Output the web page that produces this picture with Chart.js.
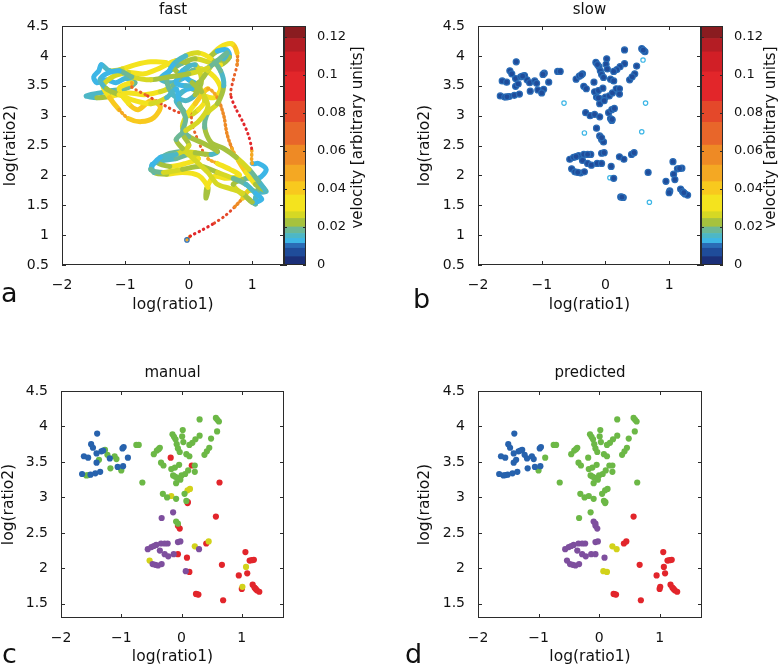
<!DOCTYPE html>
<html>
<head>
<meta charset="utf-8">
<script src="https://cdn.jsdelivr.net/npm/chart.js@4.4.1/dist/chart.umd.min.js"></script>
<style>
html, body { margin: 0; padding: 0; background: #fff; }
body { width: 782px; height: 669px; position: relative; overflow: hidden; }
canvas { position: absolute; }
.letter { position: absolute; font-family: 'DejaVu Sans', sans-serif; font-size: 27px; line-height: 27px; color: #111; }
</style>
</head>
<body>
<canvas id="chartFast" width="290" height="330" style="left:0;top:0"></canvas>
<canvas id="cbFast" width="110" height="330" style="left:280px;top:0"></canvas>
<canvas id="chartSlow" width="318" height="330" style="left:390px;top:0"></canvas>
<canvas id="cbSlow" width="85" height="330" style="left:697px;top:0"></canvas>
<canvas id="chartManual" width="290" height="339" style="left:0;top:330px"></canvas>
<canvas id="chartPredicted" width="318" height="339" style="left:390px;top:330px"></canvas>
<div class="letter" style="left:1px;top:279px">a</div>
<div class="letter" style="left:413px;top:285px">b</div>
<div class="letter" style="left:2px;top:640px">c</div>
<div class="letter" style="left:405px;top:640px">d</div>

<script>
// colour bar: band edges (velocity) and colours
const cbEdges = [0, 0.0044, 0.0088, 0.0114, 0.014, 0.0166, 0.020, 0.0245, 0.028, 0.0368, 0.0438,
                 0.0525, 0.063, 0.075, 0.086, 0.1015, 0.112, 0.119, 0.1256];
const cbColors = ['#1b2f78', '#1f4c9a', '#2a6cb6', '#3db6e6', '#4db7c6', '#6cb896', '#a6c23e', '#d6d824',
                  '#f4e31e', '#f8c91e', '#f4a823', '#ee8a25', '#e8662a', '#e4482a', '#e2262a', '#d11f26',
                  '#b41d24', '#8a1c20'];

// fast trajectory: log(ratio1), log(ratio2), velocity
const trajX = [-0.03, 0.02, 0.2, 0.4, 0.58, 0.72, 0.85,
  0.95, 1.1, 1.22, 1.12, 1.05, 1.05, 0.95, 0.8, 0.7, 0.9, 1.1, 1.22, 1.1, 1.0,
  0.99, 0.93, 0.84, 0.74, 0.66, 0.7, 0.76, 0.76,
  0.68, 0.5, 0.35, 0.45, 0.6, 0.64,
  0.5, 0.3, 0.1, -0.1, -0.3, -0.45, -0.3, -0.1, 0.05, 0.2, 0.4, 0.5, 0.4, 0.2, 0.05, -0.1, -0.2, -0.1, 0.0, 0.15, 0.25, 0.15, 0.0, -0.15,
  -0.35, -0.6, -0.85, -1.05, -1.25, -1.38, -1.42, -1.5, -1.45, -1.3, -1.15, -1.0, -0.85, -1.0, -1.2, -1.4, -1.62, -1.45, -1.2, -0.95, -0.7, -0.45, -0.25, -0.1, 0.0, -0.2, -0.45, -0.7, -0.95, -1.2, -1.35,
  -1.25, -1.1, -0.95, -0.75, -0.55, -0.45, -0.6, -0.8, -0.95, -1.1, -0.9,
  -0.9, -0.65, -0.4, -0.15, 0.02,
  0.05, 0.12, 0.2, 0.3,
  0.45, 0.65, 0.8, 0.6, 0.4, 0.28, 0.27, 0.3, 0.15, -0.1, -0.35, -0.55, -0.58, -0.4, -0.2, 0.0, 0.15, -0.05, -0.3, -0.5, -0.35, -0.1, 0.1, 0.35, 0.45,
  0.2, 0.0, -0.1, -0.05, 0.1,
  0.3, 0.45, 0.55, 0.6, 0.68, 0.78, 0.9, 1.05, 1.2,
  1.1, 0.95, 0.75, 0.55, 0.35, 0.25, 0.3, 0.45, 0.55, 0.5, 0.35, 0.15, -0.05, -0.25, -0.35, -0.25, -0.05, 0.1, 0.2, 0.1, -0.1, -0.2, -0.05, 0.15, 0.3, 0.4, 0.55, 0.6,
  0.3, 0.0, -0.3, -0.6, -0.9, -1.1, -1.3, -1.4, -1.3, -1.1, -0.85, -0.6, -0.35, -0.2,
  -0.15, -0.05, -0.1, 0.0, -0.2, -0.45, -0.6, -0.4, -0.1, 0.2, 0.45, 0.7, 0.9, 1.05, 1.15, 1.0, 0.85, 0.65, 0.45, 0.3, 0.1, -0.1, -0.2, -0.05, 0.15, 0.3, 0.2, 0.05];
const trajY = [0.92, 0.98, 1.08, 1.2, 1.33, 1.47, 1.62,
  1.75, 1.72, 1.73, 1.82, 1.62, 1.52, 1.6, 1.72, 1.85, 1.95, 1.95, 2.1, 2.2, 2.2,
  2.45, 2.7, 2.92, 3.12, 3.35, 3.6, 3.85, 4.05,
  4.2, 4.15, 4.0, 4.08, 4.1, 3.98,
  3.85, 3.9, 3.95, 3.88, 3.75, 3.62, 3.55, 3.62, 3.75, 3.78, 3.65, 3.45, 3.3, 3.35, 3.45, 3.4, 3.25, 3.1, 3.0, 3.1, 3.25, 3.5, 3.6, 3.7,
  3.88, 3.9, 3.85, 3.78, 3.75, 3.85, 3.75, 3.65, 3.55, 3.6, 3.55, 3.62, 3.55, 3.45, 3.42, 3.38, 3.33, 3.3, 3.33, 3.38, 3.35, 3.4, 3.5, 3.7, 3.85, 3.92, 3.8, 3.7, 3.72, 3.65, 3.5,
  3.3, 3.1, 2.95, 2.9, 2.97, 3.15, 3.25, 3.1, 3.2, 3.45, 3.55,
  3.48, 3.33, 3.18, 3.05, 3.05,
  2.85, 2.65, 2.45, 2.28,
  2.2, 2.1, 2.0, 1.95, 1.98, 1.78, 1.62, 1.8, 2.0, 2.05, 2.02, 2.05, 2.18, 2.25, 2.28, 2.35, 2.28, 2.2, 2.15, 2.22, 2.35, 2.4, 2.38, 2.35, 2.4,
  2.55, 2.65, 2.8, 2.98, 3.2,
  3.45, 3.3, 3.0, 2.7, 2.45, 2.25, 2.05, 1.85, 1.75,
  1.9, 2.1, 2.3, 2.45, 2.55, 2.8, 3.05, 3.2, 3.5, 3.75, 3.95, 4.05, 4.0, 3.85, 3.6, 3.35, 3.25, 3.35, 3.6, 3.85, 3.75, 3.55, 3.5, 3.55, 3.75, 3.9, 3.95, 4.05,
  3.8, 3.7, 3.65, 3.6, 3.65, 3.75, 3.7, 3.6, 3.45, 3.35, 3.25, 3.2, 3.3, 3.45,
  3.2, 2.95, 2.7, 2.5, 2.35, 2.3, 2.1, 2.05, 2.1, 2.15, 2.05, 1.95, 1.85, 1.7, 1.6, 1.55, 1.7, 1.78, 1.85, 2.05, 2.25, 2.45, 2.6, 2.75, 2.9, 3.15, 3.4, 3.55];
const trajV = [0.008, 0.09, 0.09, 0.085, 0.08, 0.07, 0.055,
  0.03, 0.02, 0.012, 0.018, 0.02, 0.012, 0.022, 0.03, 0.025, 0.02, 0.015, 0.012, 0.012, 0.012,
  0.085, 0.09, 0.092, 0.09, 0.085, 0.075, 0.065, 0.05,
  0.035, 0.032, 0.03, 0.012, 0.012, 0.012,
  0.028, 0.03, 0.022, 0.02, 0.014, 0.012, 0.02, 0.012, 0.015, 0.022, 0.035, 0.038, 0.035, 0.03, 0.015, 0.012, 0.02, 0.012, 0.022, 0.03, 0.032, 0.02, 0.012, 0.015,
  0.03, 0.035, 0.035, 0.03, 0.02, 0.012, 0.012, 0.014, 0.012, 0.012, 0.015, 0.012, 0.018, 0.02, 0.015, 0.018, 0.012, 0.02, 0.028, 0.032, 0.033, 0.03, 0.022, 0.018, 0.02, 0.028, 0.032, 0.035, 0.03, 0.02, 0.03,
  0.04, 0.045, 0.045, 0.042, 0.038, 0.036, 0.04, 0.042, 0.038, 0.035, 0.03,
  0.07, 0.075, 0.08, 0.08, 0.07,
  0.065, 0.07, 0.07, 0.06,
  0.038, 0.035, 0.03, 0.035, 0.035, 0.035, 0.012, 0.03, 0.03, 0.032, 0.028, 0.018, 0.012, 0.012, 0.018, 0.022, 0.03, 0.03, 0.028, 0.02, 0.015, 0.02, 0.03, 0.018, 0.012,
  0.03, 0.015, 0.022, 0.03, 0.035,
  0.045, 0.05, 0.055, 0.055, 0.05, 0.045, 0.04, 0.025, 0.015,
  0.015, 0.022, 0.03, 0.018, 0.03, 0.013, 0.022, 0.03, 0.018, 0.013, 0.025, 0.032, 0.018, 0.013, 0.015, 0.02, 0.013, 0.018, 0.03, 0.02, 0.013, 0.013, 0.012, 0.02, 0.022, 0.03, 0.016, 0.012,
  0.022, 0.03, 0.018, 0.03, 0.022, 0.013, 0.015, 0.012, 0.016, 0.028, 0.035, 0.03, 0.02, 0.013,
  0.013, 0.022, 0.013, 0.03, 0.02, 0.013, 0.015, 0.022, 0.03, 0.018, 0.03, 0.022, 0.016, 0.013, 0.012, 0.015, 0.025, 0.03, 0.02, 0.03, 0.022, 0.03, 0.013, 0.022, 0.03, 0.02, 0.03, 0.013];

// slow points (shared by panels b, c, d)
const slowX = [-1.40, -1.50, -1.47, -1.62, -1.55, -1.41, -1.33, -1.27, -1.23, -1.19, -1.11, -1.08, -0.96, -0.98,
  -1.41, -1.37, -1.18, -1.06, -0.97, -1.65, -1.58, -1.51, -1.43, -1.35,
  -0.89, -1.00, -0.75, -0.71, -0.65, -0.46, -0.41, -0.36, -0.34, -0.30, -0.15, -0.10, 0.02, 0.30, 0.57, 0.62,
  0.59, 0.49, 0.46, 0.38, 0.30, 0.23, 0.18, 0.13, 0.01, 0.03, -0.08, -0.06, -0.03, 0.08, 0.13, -0.17, -0.11,
  -0.04, -0.14, -0.08, 0.00, 0.06, 0.11, 0.17, 0.22, 0.22, -0.09, -0.02, -0.31, -0.24, -0.17, -0.09, 0.05,
  0.10, 0.14, 0.08, 0.10, 0.63, -0.14, -0.33, -0.18,
  -0.09, -0.06, -0.03, -0.56, -0.50, -0.42, -0.34, -0.23, -0.36, -0.28, -0.53, -0.48, -0.39, -0.33, -0.22,
  -0.13, -0.06, -0.06, -0.02, 0.09,
  0.22, 0.29, 0.07, 0.13,
  0.57, 0.41, 0.45, 0.67, 0.24, 0.28, 0.69, 1.06, 1.13, 1.20, 1.07, 1.09, 0.95, 1.01, 1.00, 1.18, 1.21, 1.25, 1.29,
  0.595, -1.30, -1.545, -0.38, -0.125, 0.42, -0.11, -0.46, -0.28, -0.435, 1.23, 1.165, 0.26, -0.06, 0.105];
const slowY = [3.90, 3.75, 3.70, 3.58, 3.56, 3.62, 3.65, 3.67, 3.60, 3.55, 3.58, 3.54, 3.71, 3.69,
  3.49, 3.53, 3.41, 3.43, 3.44, 3.33, 3.31, 3.32, 3.34, 3.36,
  3.56, 3.38, 3.74, 3.74, 3.21, 3.61, 3.66, 3.70, 3.49, 3.45, 3.89, 3.82, 3.95, 4.10, 4.12, 4.07,
  3.93, 3.83, 3.70, 3.60, 3.87, 3.82, 3.77, 3.74, 3.86, 3.78, 3.75, 3.69, 3.64, 3.61, 3.58, 3.40, 3.42,
  3.46, 3.31, 3.28, 3.31, 3.33, 3.38, 3.45, 3.45, 3.36, 3.20, 3.25, 3.05, 3.00, 3.02, 2.98, 3.05,
  3.10, 3.12, 2.95, 2.92, 3.21, 2.79, 2.71, 3.56,
  2.66, 2.60, 2.56, 2.27, 2.30, 2.33, 2.35, 2.35, 2.25, 2.20, 2.11, 2.06, 2.04, 2.06, 2.17,
  2.20, 2.20, 2.37, 2.38, 2.15,
  2.31, 2.27, 1.96, 1.95,
  2.73, 2.35, 2.38, 2.05, 1.64, 1.63, 1.55, 2.23, 2.11, 2.12, 2.02, 1.93, 1.90, 1.74, 1.71, 1.77, 1.73, 1.69, 1.67,
  4.095, 3.66, 3.315, 3.68, 3.855, 3.65, 3.295, 2.315, 2.35, 2.05, 1.71, 2.115, 1.635, 2.63, 2.935];
const predCls = ['B', 'B', 'B', 'B', 'B', 'B', 'B', 'B', 'B', 'B', 'B', 'B', 'B', 'B',
  'B', 'B', 'B', 'B', 'B', 'B', 'B', 'B', 'B', 'B',
  'G', 'G', 'G', 'G', 'G', 'G', 'G', 'G', 'G', 'G', 'G', 'G', 'G', 'G', 'G', 'G',
  'G', 'G', 'G', 'G', 'G', 'G', 'G', 'G', 'G', 'G', 'G', 'G', 'G', 'G', 'G', 'G', 'G',
  'G', 'G', 'G', 'G', 'G', 'G', 'G', 'G', 'G', 'G', 'G', 'G', 'G', 'G', 'G', 'G',
  'G', 'G', 'G', 'G', 'G', 'G', 'G', 'G',
  'P', 'P', 'P', 'P', 'P', 'P', 'P', 'P', 'P', 'P', 'P', 'P', 'P', 'P', 'P',
  'P', 'P', 'P', 'P', 'P',
  'Y', 'Y', 'Y', 'Y',
  'R', 'R', 'R', 'R', 'R', 'R', 'R', 'R', 'R', 'R', 'R', 'R', 'R', 'R', 'R', 'R', 'R', 'R', 'R',
  'G', 'B', 'B', 'G', 'G', 'G', 'G', 'P', 'P', 'P', 'R', 'R', 'R', 'P', 'G'];
const manualCls = ['B', 'B', 'B', 'B', 'B', 'B', 'B', 'G', 'G', 'B', 'G', 'G', 'B', 'B',
  'B', 'G', 'G', 'B', 'B', 'B', 'G', 'B', 'B', 'B',
  'B', 'G', 'G', 'G', 'G', 'G', 'G', 'G', 'G', 'G', 'G', 'G', 'G', 'G', 'G', 'G',
  'G', 'G', 'G', 'G', 'G', 'G', 'G', 'G', 'G', 'G', 'G', 'G', 'G', 'G', 'G', 'G', 'G',
  'G', 'G', 'G', 'G', 'G', 'G', 'R', 'G', 'G', 'G', 'G', 'G', 'G', 'Y', 'G', 'G',
  'Y', 'Y', 'G', 'R', 'R', 'P', 'P', 'R',
  'G', 'R', 'R', 'P', 'P', 'P', 'P', 'P', 'P', 'P', 'Y', 'P', 'P', 'P', 'P',
  'P', 'R', 'P', 'P', 'R',
  'Y', 'P', 'P', 'R',
  'R', 'R', 'Y', 'R', 'R', 'R', 'R', 'R', 'R', 'R', 'Y', 'R', 'R', 'Y', 'R', 'R', 'R', 'R', 'R',
  'G', 'B', 'G', 'G', 'G', 'G', 'G', 'P', 'P', 'P', 'R', 'R', 'R', 'G', 'R'];
// slow points drawn lighter (hollow) in panel b
const slowLight = [28, 40, 77, 79, 103, 105, 111];

const clsOrder = ['B', 'G', 'P', 'Y', 'R'];
const clsColors = { B: '#2762ad', G: '#6cb846', P: '#7e4f9e', Y: '#d2d21a', R: '#e2252b' };

Chart.defaults.font.family = "'DejaVu Sans', sans-serif";
Chart.defaults.color = '#111';

function velColor(v) {
  for (let i = 0; i < cbColors.length; i++) {
    if (v < cbEdges[i + 1]) return cbColors[i];
  }
  return cbColors[cbColors.length - 1];
}

function fmtTick(v) {
  return v < 0 ? '\u2212' + Math.abs(v) : String(v);
}

// box around the axes with inward tick marks on all four sides
const boxTicks = {
  id: 'boxTicks',
  afterDatasetsDraw(chart, args, opts) {
    const { ctx, chartArea: a } = chart;
    const len = opts.len || 4;
    ctx.save();
    ctx.strokeStyle = '#2b2b2b';
    ctx.lineWidth = 1;
    ctx.beginPath();
    if (opts.xTicks) {
      const sx = chart.scales.x;
      sx.ticks.forEach(t => {
        const p = Math.round(sx.getPixelForValue(t.value)) + 0.5;
        ctx.moveTo(p, a.bottom); ctx.lineTo(p, a.bottom - len);
        ctx.moveTo(p, a.top); ctx.lineTo(p, a.top + len);
      });
    }
    const sy = chart.scales.y;
    sy.ticks.forEach(t => {
      const p = Math.round(sy.getPixelForValue(t.value)) + 0.5;
      ctx.moveTo(a.left, p); ctx.lineTo(a.left + len, p);
      ctx.moveTo(a.right, p); ctx.lineTo(a.right - len, p);
    });
    ctx.stroke();
    ctx.strokeRect(Math.round(a.left) + 0.5, Math.round(a.top) + 0.5,
      Math.round(a.right - a.left) - 1, Math.round(a.bottom - a.top) - 1);
    ctx.restore();
  }
};

// colour bar caption, reading bottom to top
const cbLabel = {
  id: 'cbLabel',
  afterDraw(chart, args, opts) {
    const { ctx, chartArea } = chart;
    ctx.save();
    ctx.translate(opts.x, (chartArea.top + chartArea.bottom) / 2 - 8);
    ctx.rotate(-Math.PI / 2);
    ctx.font = "15px 'DejaVu Sans'";
    ctx.fillStyle = '#111';
    ctx.textAlign = 'center';
    ctx.textBaseline = 'middle';
    ctx.fillText(opts.text, 0, 0);
    ctx.restore();
  }
};

function panelScales(p) {
  return {
    x: {
      type: 'linear', position: 'bottom', min: -2, max: p.xMax,
      grid: { display: false }, border: { display: false },
      ticks: { stepSize: 1, includeBounds: false, padding: 4, font: { size: 14 }, callback: fmtTick },
      title: { display: true, text: 'log(ratio1)', font: { size: 15.5 }, padding: { top: 0, bottom: p.xTitlePad } },
      afterFit: s => { s.height = p.xAxisH; }
    },
    top: {
      axis: 'x', type: 'linear', position: 'top', min: -2, max: p.xMax,
      grid: { display: false }, border: { display: false }, ticks: { display: false },
      title: { display: true, text: p.title, font: { size: 15 }, padding: { top: p.titlePad, bottom: 0 } },
      afterFit: s => { s.height = p.topH; }
    },
    y: {
      type: 'linear', position: 'left', min: p.yMin, max: 4.5,
      grid: { display: false }, border: { display: false },
      ticks: { stepSize: 0.5, includeBounds: false, padding: 5, font: { size: 14 }, callback: fmtTick },
      title: { display: true, text: 'log(ratio2)', font: { size: 15.5 }, padding: { top: p.yTitlePad, bottom: 0 } },
      afterFit: s => { s.width = p.yAxisW; }
    }
  };
}

function baseOptions(p) {
  return {
    responsive: false,
    animation: false,
    events: [],
    layout: { padding: { left: 0, top: 0, bottom: 0, right: p.padRight } },
    plugins: { legend: { display: false }, tooltip: { enabled: false }, boxTicks: { xTicks: true, len: 4 } },
    scales: panelScales(p)
  };
}

function pointsOf(idx) {
  return idx.map(i => ({ x: slowX[i], y: slowY[i] }));
}

function classDatasets(cls) {
  return clsOrder.map(c => ({
    data: pointsOf(slowX.map((_, i) => i).filter(i => cls[i] === c)),
    backgroundColor: clsColors[c],
    borderColor: clsColors[c],
    borderWidth: 0,
    pointRadius: 3.1
  }));
}

function colourBar(id, labelX, axisW) {
  new Chart(document.getElementById(id), {
    type: 'bar',
    data: {
      labels: [''],
      datasets: cbColors.map((c, i) => ({
        data: [[cbEdges[i], cbEdges[i + 1]]],
        backgroundColor: c,
        borderWidth: 0,
        barPercentage: 1,
        categoryPercentage: 1,
        grouped: false
      }))
    },
    options: {
      responsive: false,
      animation: false,
      events: [],
      layout: { padding: { left: 4, top: 26, bottom: 65, right: 0 } },
      plugins: {
        legend: { display: false }, tooltip: { enabled: false },
        boxTicks: { xTicks: false, len: 3 },
        cbLabel: { text: 'velocity [arbitrary units]', x: labelX }
      },
      scales: {
        x: { display: false },
        y: {
          position: 'right', min: 0, max: 0.1256,
          grid: { display: false }, border: { display: false },
          ticks: { stepSize: 0.02, includeBounds: false, padding: 3, font: { size: 13 }, callback: v => String(v) },
          afterFit: s => { s.width = axisW; }
        }
      }
    },
    plugins: [boxTicks, cbLabel]
  });
}

// a: fast trajectory
new Chart(document.getElementById('chartFast'), {
  type: 'scatter',
  data: {
    datasets: [{
      data: trajX.map((x, i) => ({ x, y: trajY[i] })),
      showLine: true,
      tension: 0.3,
      borderWidth: 5,
      borderCapStyle: 'round',
      borderJoinStyle: 'round',
      borderColor: '#f4e31e',
      pointRadius: c => (c.dataIndex === 0 ? 2.2 : 0),
      pointBackgroundColor: 'rgba(0,0,0,0)',
      pointBorderColor: '#2a6cb6',
      pointBorderWidth: 1.2,
      segment: {
        borderColor: c => velColor((trajV[c.p0DataIndex] + trajV[c.p1DataIndex]) / 2),
        borderDash: c => {
          const v = (trajV[c.p0DataIndex] + trajV[c.p1DataIndex]) / 2;
          return v >= 0.065 ? [0.5, 4.5] : v >= 0.044 ? [1, 3] : undefined;
        },
        borderWidth: c => {
          const v = (trajV[c.p0DataIndex] + trajV[c.p1DataIndex]) / 2;
          return v >= 0.065 ? 3 : v >= 0.044 ? 3.5 : 5;
        }
      }
    }]
  },
  options: baseOptions({ xMax: 1.5, yMin: 0.5, title: 'fast', titlePad: 1.5, topH: 26,
    xAxisH: 65, xTitlePad: 16, yAxisW: 62, yTitlePad: 2, padRight: 6 }),
  plugins: [boxTicks]
});
colourBar('cbFast', 78, 84);

// b: slow points
const lightSet = new Set(slowLight);
new Chart(document.getElementById('chartSlow'), {
  type: 'scatter',
  data: {
    datasets: [{
      data: pointsOf(slowX.map((_, i) => i).filter(i => !lightSet.has(i))),
      backgroundColor: velColor(0.006),
      borderColor: velColor(0.01),
      borderWidth: 1.2,
      pointRadius: 3
    }, {
      data: pointsOf(slowLight),
      backgroundColor: 'rgba(255,255,255,0)',
      borderColor: velColor(0.012),
      borderWidth: 1.2,
      pointRadius: 2.2
    }]
  },
  options: baseOptions({ xMax: 1.5, yMin: 0.5, title: 'slow', titlePad: 1.5, topH: 26,
    xAxisH: 65, xTitlePad: 16, yAxisW: 88, yTitlePad: 26, padRight: 7 }),
  plugins: [boxTicks]
});
colourBar('cbSlow', 74, 59);

// c: manual classes
new Chart(document.getElementById('chartManual'), {
  type: 'scatter',
  data: { datasets: classDatasets(manualCls) },
  options: baseOptions({ xMax: 1.7, yMin: 1.3, title: 'manual', titlePad: 34, topH: 61,
    xAxisH: 51, xTitlePad: 3, yAxisW: 61, yTitlePad: 0, padRight: 6 }),
  plugins: [boxTicks]
});

// d: predicted classes
new Chart(document.getElementById('chartPredicted'), {
  type: 'scatter',
  data: { datasets: classDatasets(predCls) },
  options: baseOptions({ xMax: 1.7, yMin: 1.3, title: 'predicted', titlePad: 34, topH: 61,
    xAxisH: 51, xTitlePad: 3, yAxisW: 88, yTitlePad: 26, padRight: 6 }),
  plugins: [boxTicks]
});
</script>
</body>
</html>
